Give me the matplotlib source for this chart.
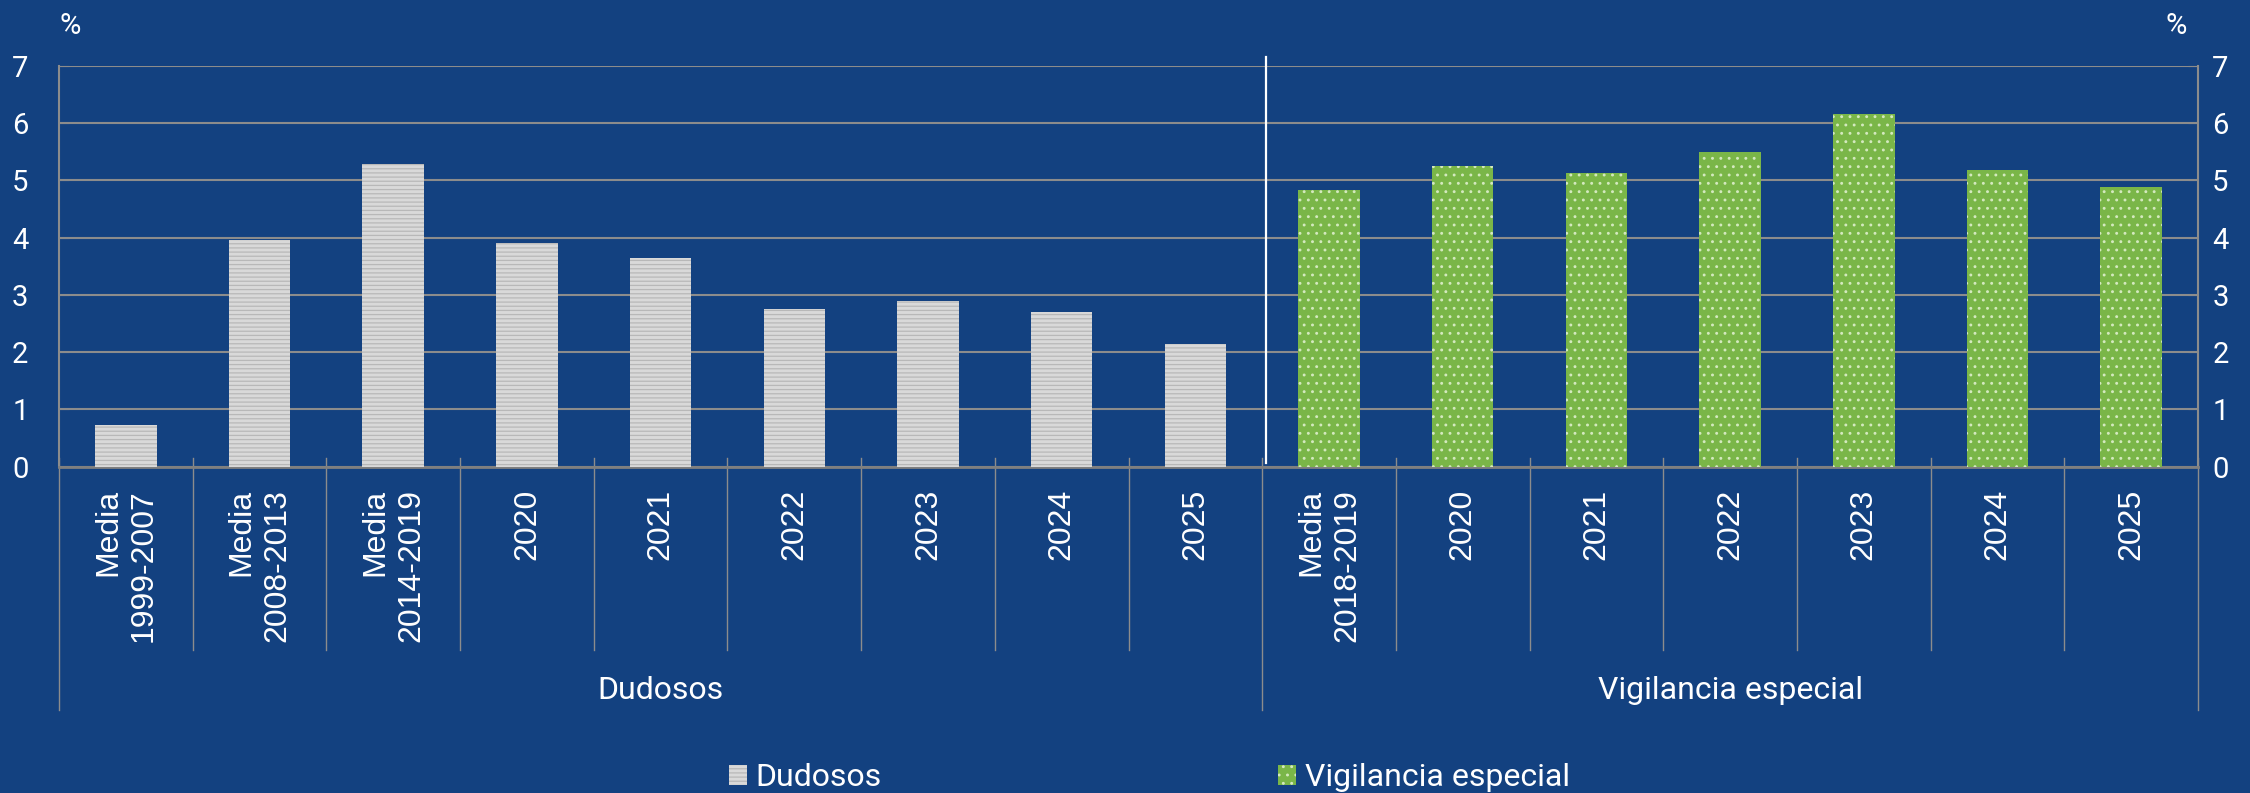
import matplotlib.pyplot as plt

# data
dudosos_labels = ['Media\n1999-2007', 'Media\n2008-2013', 'Media\n2014-2019',
                  '2020', '2021', '2022', '2023', '2024', '2025']
dudosos_values = [0.73, 3.96, 5.28, 3.90, 3.64, 2.75, 2.89, 2.70, 2.14]
vigilancia_labels = ['Media\n2018-2019', '2020', '2021', '2022', '2023', '2024', '2025']
vigilancia_values = [4.83, 5.25, 5.12, 5.49, 6.15, 5.18, 4.88]
group_names = ['Dudosos', 'Vigilancia especial']
y_ticks = [0, 1, 2, 3, 4, 5, 6, 7]

BG = '#134180'
GRID = '#8c8c8c'
W, H = 2250, 793

plt.rcParams['font.family'] = ['Roboto', 'DejaVu Sans']
plt.rcParams['hatch.linewidth'] = 0.9

fig = plt.figure(figsize=(W / 100, H / 100), dpi=100, facecolor=BG)
ax = fig.add_axes([59 / W, 1 - 466.7 / H, (2198 - 59) / W, (466.7 - 65.7) / H])
ax.set_facecolor(BG)

n1 = len(dudosos_values)
n2 = len(vigilancia_values)
x1 = list(range(n1))
x2 = list(range(n1, n1 + n2))

ax.bar(x1, dudosos_values, width=0.46, color='#d9d9d9', edgecolor='#b8b8b8',
       linewidth=0, hatch='----', label=group_names[0], zorder=3)
ax.bar(x2, vigilancia_values, width=0.46, color='#7ab648', edgecolor='#d4e9bf',
       linewidth=0, hatch='..', label=group_names[1], zorder=3)

ax.set_xlim(-0.5, n1 + n2 - 0.5)
ax.set_ylim(0, 7)

# y axes on both sides
ax.set_yticks(y_ticks)
ax.yaxis.grid(True, color=GRID, linewidth=1.5)
ax.set_axisbelow(True)
ax.tick_params(axis='y', left=True, right=True, labelleft=True, labelright=True,
               direction='in', length=7, color=GRID, labelsize=21,
               labelcolor='white', pad=22)
for lbl in ax.get_yticklabels():
    lbl.set_horizontalalignment('right')

ax.spines['top'].set_visible(False)
for side in ['left', 'right']:
    ax.spines[side].set_color(GRID)
    ax.spines[side].set_linewidth(1.5)
ax.spines['bottom'].set_color('#7f7f7f')
ax.spines['bottom'].set_linewidth(2)

# category labels
ax.set_xticks(x1 + x2)
ax.set_xticklabels(dudosos_labels + vigilancia_labels)
ax.tick_params(axis='x', length=0, pad=16, labelsize=23, labelcolor='white',
               labelrotation=90)
for lbl in ax.get_xticklabels():
    lbl.set_fontfamily(['Liberation Sans', 'DejaVu Sans'])
    lbl.set_multialignment('right')
    lbl.set_linespacing(1.25)

# category and group boundary lines
trans = ax.get_xaxis_transform()
for b in range(n1 + n2 + 1):
    xb = b - 0.5
    low = -0.607 if b in (0, n1, n1 + n2) else -0.457
    ax.plot([xb, xb], [0.0224, low], transform=trans, color=GRID, lw=1,
            clip_on=False, zorder=1)

ax.text((n1 - 1) / 2, -0.557, group_names[0], transform=trans, ha='center',
        va='center', fontsize=23, color='white')
ax.text(n1 + (n2 - 1) / 2, -0.557, group_names[1], transform=trans, ha='center',
        va='center', fontsize=23, color='white')

# white separator between the two blocks
ax.plot([n1 - 0.47, n1 - 0.47], [0.065, 7.15], color='white', lw=1.6,
        clip_on=False, zorder=4)

fig.text(70 / W, 1 - 26 / H, '%', ha='center', va='center', fontsize=21, color='white')
fig.text(2176 / W, 1 - 26 / H, '%', ha='center', va='center', fontsize=21, color='white')

fig.legend(loc='center', bbox_to_anchor=(1149.5 / W, 1 - 778 / H), ncol=2,
           frameon=False, fontsize=23, labelcolor='white', handlelength=0.56,
           handleheight=0.56, handletextpad=0.28, columnspacing=12.4,
           borderpad=0, borderaxespad=0)

fig.savefig('out.png', dpi=100, facecolor=BG)
